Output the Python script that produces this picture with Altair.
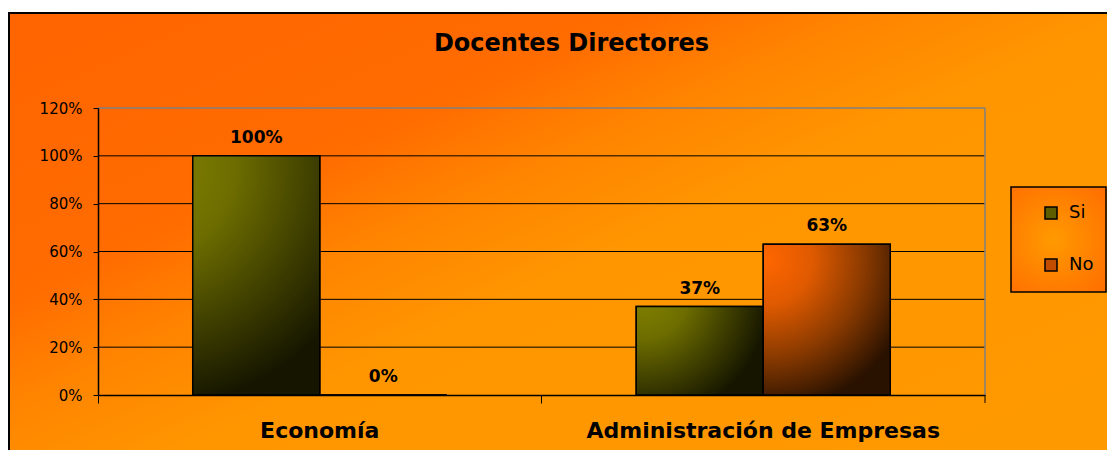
import altair as alt
import pandas as pd

# ---- data ----
categorias = ["Economía", "Economía", "Administración de Empresas", "Administración de Empresas"]
series = ["Si", "No", "Si", "No"]
valores = [1.00, 0.00, 0.37, 0.63]
orden_categorias = ["Economía", "Administración de Empresas"]
orden_series = ["Si", "No"]
ticks_y = [0, 0.2, 0.4, 0.6, 0.8, 1.0, 1.2]
rejilla = [0.2, 0.4, 0.6, 0.8, 1.0]
titulo = "Docentes Directores"

W, H = 887, 287
FONT = "DejaVu Sans"

df = pd.DataFrame({"categoria": categorias, "serie": series, "valor": valores})
grid_df = pd.DataFrame({"valor": rejilla})
one = pd.DataFrame({"k": [0]})

yscale = alt.Scale(domain=[0, 1.2], nice=False, zero=True)
xscale = alt.Scale(domain=orden_categorias, paddingInner=0, paddingOuter=0)
xoff = alt.Scale(domain=orden_series, paddingInner=0, paddingOuter=0.746)

bg_grad = {
    "gradient": "linear", "x1": 0, "y1": 0, "x2": 1, "y2": 1,
    "stops": [
        {"offset": 0, "color": "#FF6400"},
        {"offset": 0.28, "color": "#FF6C00"},
        {"offset": 0.38, "color": "#FF8400"},
        {"offset": 0.5, "color": "#FF9600"},
        {"offset": 1, "color": "#FF9A00"},
    ],
}
legend_grad = {
    "gradient": "radial", "x1": 0.45, "y1": 0.5, "r1": 0, "x2": 0.45, "y2": 0.5, "r2": 0.75,
    "stops": [
        {"offset": 0, "color": "#FF9A00"},
        {"offset": 1, "color": "#FF6A00"},
    ],
}
si_grad = {
    "gradient": "radial", "x1": 0.05, "y1": 0.05, "r1": 0, "x2": 0.05, "y2": 0.05, "r2": 1.0,
    "stops": [
        {"offset": 0, "color": "#828200"},
        {"offset": 0.35, "color": "#6E6E00"},
        {"offset": 0.7, "color": "#3E3E00"},
        {"offset": 1, "color": "#161600"},
    ],
}
no_grad = {
    "gradient": "radial", "x1": 0.1, "y1": 0.1, "r1": 0, "x2": 0.1, "y2": 0.1, "r2": 1.0,
    "stops": [
        {"offset": 0, "color": "#FF6600"},
        {"offset": 0.3, "color": "#E05A00"},
        {"offset": 0.65, "color": "#8A3A00"},
        {"offset": 1, "color": "#2A1200"},
    ],
}

# background frame
bg = alt.Chart(one).mark_rect(fill=bg_grad, stroke="black", strokeWidth=2).encode(
    x=alt.value(-89), x2=alt.value(1040), y=alt.value(-95), y2=alt.value(420)
)

# legend box
legend_box = alt.Chart(one).mark_rect(fill=legend_grad, stroke="black", strokeWidth=1.5).encode(
    x=alt.value(913), x2=alt.value(1008), y=alt.value(79), y2=alt.value(184)
)

x_axis = alt.Axis(
    bandPosition=0, tickSize=8, tickColor="black", domainColor="black", domainWidth=1.5,
    labelFont=FONT, labelFontWeight="bold", labelFontSize=22, labelColor="black",
    labelPadding=17, labelAngle=0, labelLimit=600, title=None, grid=False, zindex=2,
)
y_axis = alt.Axis(
    values=ticks_y, format=".0%", tickSize=5, tickColor="black", domainColor="black",
    domainWidth=1.5, labelFont=FONT, labelFontSize=15, labelColor="black",
    labelPadding=11, title=None, grid=False, zindex=2,
)

# grid lines
grid = alt.Chart(grid_df).mark_rule(color="black", strokeWidth=1).encode(
    y=alt.Y("valor:Q", scale=yscale, axis=y_axis), x=alt.value(0), x2=alt.value(W)
)

# plot area top / right border
top_border = alt.Chart(one).mark_rule(color="#808080", strokeWidth=1.5).encode(
    x=alt.value(0), x2=alt.value(W), y=alt.value(0)
)
right_border = alt.Chart(one).mark_rule(color="#808080", strokeWidth=1.5).encode(
    x=alt.value(W), y=alt.value(0), y2=alt.value(H)
)
end_tick = alt.Chart(one).mark_rule(color="black", strokeWidth=1).encode(
    x=alt.value(W), y=alt.value(H), y2=alt.value(H + 8)
)

bars_legend = alt.Chart(df).mark_bar(stroke="black", strokeWidth=1.5).encode(
    x=alt.X("categoria:N", scale=xscale, axis=x_axis, sort=orden_categorias),
    xOffset=alt.XOffset("serie:N", scale=xoff, sort=orden_series),
    y=alt.Y("valor:Q", scale=yscale, axis=y_axis),
    color=alt.Color(
        "serie:N",
        scale=alt.Scale(domain=orden_series, range=["#5E5E00", "#C24C00"]),
        legend=alt.Legend(
            title=None, orient="none", legendX=944, legendY=96, direction="vertical",
            symbolType="square", symbolSize=144, symbolStrokeColor="black",
            symbolStrokeWidth=1.5, labelFont=FONT, labelFontSize=18, labelColor="black",
            labelOffset=9, rowPadding=34, padding=0, zindex=2,
        ),
    ),
)

bars = alt.Chart(df).mark_bar(stroke="black", strokeWidth=1.5).encode(
    x=alt.X("categoria:N", scale=xscale, axis=x_axis, sort=orden_categorias),
    xOffset=alt.XOffset("serie:N", scale=xoff, sort=orden_series),
    y=alt.Y("valor:Q", scale=yscale, axis=y_axis),
    color=alt.condition(alt.datum.serie == "Si", alt.value(si_grad), alt.value(no_grad)),
)

labels = alt.Chart(df).mark_text(
    font=FONT, fontWeight="bold", fontSize=17, dy=-13, baseline="alphabetic",
    align="center", color="black",
).encode(
    x=alt.X("categoria:N", scale=xscale, axis=x_axis, sort=orden_categorias),
    xOffset=alt.XOffset("serie:N", scale=xoff, sort=orden_series),
    y=alt.Y("valor:Q", scale=yscale, axis=y_axis),
    text=alt.Text("valor:Q", format=".0%"),
)

title = alt.Chart(pd.DataFrame({"t": [titulo]})).mark_text(
    font=FONT, fontWeight="bold", fontSize=24, baseline="alphabetic", align="center",
    color="black",
).encode(x=alt.value(473.5), y=alt.value(-57), text="t:N")

chart = alt.layer(
    bg, legend_box, grid, top_border, right_border, bars_legend, bars, labels, title, end_tick
).properties(
    width=W, height=H,
    autosize=alt.AutoSizeParams(type="none"),
    padding={"left": 90, "top": 100, "right": 122, "bottom": 55},
).configure_view(stroke=None)

chart.save("out.html", embed_options={"renderer": "svg", "actions": False})
